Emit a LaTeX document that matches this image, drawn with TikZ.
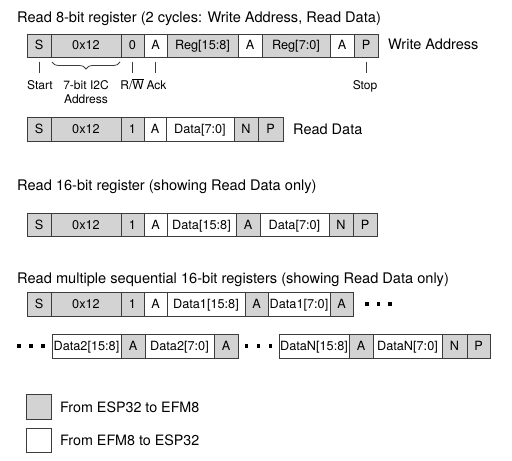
\documentclass[tikz,border=0pt]{standalone}
\usepackage{fontspec}
\setmainfont{TeX Gyre Heros}
\usetikzlibrary{decorations.pathreplacing,calc}
\definecolor{cellgray}{RGB}{211,211,211}
\definecolor{edgecol}{RGB}{60,60,60}
\begin{document}
\begin{tikzpicture}[x=1pt,y=-1pt,
  cell/.style={draw=edgecol, line width=0.9pt, anchor=west, minimum height=23.5pt,
    inner sep=0pt, outer sep=0pt, text height=8.5pt, text depth=0.5pt,
    font=\fontsize{12.7}{14}\selectfont},
  gcell/.style={cell, fill=cellgray},
  wcell/.style={cell, fill=white},
  wd/.style={minimum width=#1pt},
  title/.style={anchor=base west, inner sep=0pt, font=\fontsize{14.6}{16}\selectfont},
  side/.style={anchor=base west, inner sep=0pt, font=\fontsize{14.5}{16}\selectfont},
  note/.style={anchor=base, inner sep=0pt, font=\fontsize{12}{13.5}\selectfont},
  tick/.style={draw=edgecol, line width=0.8pt},
  dotmark/.style={fill=black, rectangle, minimum size=3.6pt, inner sep=0pt},
  legbox/.style={draw=edgecol, line width=0.9pt, minimum width=24.5pt, minimum height=24.5pt, inner sep=0pt, anchor=west},
  legtext/.style={anchor=west, inner sep=0pt, font=\fontsize{14.3}{16}\selectfont}]

\useasboundingbox (0,0) rectangle (512,461);

% Titles
\node[title] (t1) at (17,22) {Read 8-bit register (2 cycles: Write Address, Read Data)};
\node[title] (t2) at (17,190) {Read 16-bit register (showing Read Data only)};
\node[title] (t3) at (17,283) {Read multiple sequential 16-bit registers (showing Read Data only)};

% Row 1: Write Address
\node[gcell,wd=24] (a1) at (27,45.75) {S};
\node[gcell,wd=70] (a2) at (a1.east) {0x12};
\node[gcell,wd=23] (a3) at (a2.east) {0};
\node[wcell,wd=23] (a4) at (a3.east) {A};
\node[gcell,wd=71] (a5) at (a4.east) {Reg[15:8]};
\node[wcell,wd=24] (a6) at (a5.east) {A};
\node[gcell,wd=68] (a7) at (a6.east) {Reg[7:0]};
\node[wcell,wd=24] (a8) at (a7.east) {A};
\node[gcell,wd=24] (a9) at (a8.east) {P};
\node[side] (wa) at (388,49.5) {Write Address};

% Annotations
\node[note] (lstart) at (40,89) {Start};
\node[note] (laddr) at (86,89) {7-bit I2C};
\node[note] (laddr2) at (86,103) {Address};
\node[note] (lrw) at (132,89) {R/$\overline{\hbox{W}}$};
\node[note] (lack) at (156.5,89) {Ack};
\node[note] (lstop) at (365,89) {Stop};
\draw[tick] ($(a1.south)+(0,4)$) -- ($(a1.south)+(0,15)$);
\draw[tick] ($(a3.south)+(0,4)$) -- ($(a3.south)+(0,15)$);
\draw[tick] ($(a4.south)+(0,4)$) -- ($(a4.south)+(0,15)$);
\draw[tick] ($(a9.south)+(0,4)$) -- ($(a9.south)+(0,15)$);
\draw[tick, decorate, decoration={brace, mirror, amplitude=7pt}]
  ($(a2.south west)+(1,4.5)$) -- ($(a2.south east)+(-1,4.5)$);

% Row 2: Read Data
\node[gcell,wd=24] (b1) at (27,129.2) {S};
\node[gcell,wd=70] (b2) at (b1.east) {0x12};
\node[gcell,wd=23] (b3) at (b2.east) {1};
\node[wcell,wd=22] (b4) at (b3.east) {A};
\node[wcell,wd=68] (b5) at (b4.east) {Data[7:0]};
\node[gcell,wd=24] (b6) at (b5.east) {N};
\node[gcell,wd=25] (b7) at (b6.east) {P};
\node[side] (rd) at (293,134.5) {Read Data};

% Row 3: 16-bit register
\node[gcell,wd=24] (c1) at (27,225) {S};
\node[gcell,wd=70] (c2) at (c1.east) {0x12};
\node[gcell,wd=23] (c3) at (c2.east) {1};
\node[wcell,wd=23] (c4) at (c3.east) {A};
\node[wcell,wd=69] (c5) at (c4.east) {Data[15:8]};
\node[gcell,wd=24] (c6) at (c5.east) {A};
\node[wcell,wd=69] (c7) at (c6.east) {Data[7:0]};
\node[gcell,wd=24] (c8) at (c7.east) {N};
\node[gcell,wd=24] (c9) at (c8.east) {P};

% Row 4: multiple registers, first part
\node[gcell,wd=24] (d1) at (27,304.2) {S};
\node[gcell,wd=70] (d2) at (d1.east) {0x12};
\node[gcell,wd=23] (d3) at (d2.east) {1};
\node[wcell,wd=23] (d4) at (d3.east) {A};
\node[wcell,wd=78] (d5) at (d4.east) {Data1[15:8]};
\node[gcell,wd=23] (d6) at (d5.east) {A};
\node[wcell,wd=62] (d7) at (d6.east) {Data1[7:0]};
\node[gcell,wd=23] (d8) at (d7.east) {A};
\node[dotmark] (dd1) at (367,304) {};
\node[dotmark] (dd2) at (378.5,304) {};
\node[dotmark] (dd3) at (390,304) {};

% Row 5: continuation
\node[dotmark] (ed1) at (19,346) {};
\node[dotmark] (ed2) at (31,346) {};
\node[dotmark] (ed3) at (43,346) {};
\node[wcell,wd=69] (e1) at (52,346.2) {Data2[15:8]};
\node[gcell,wd=24] (e2) at (e1.east) {A};
\node[wcell,wd=69] (e3) at (e2.east) {Data2[7:0]};
\node[gcell,wd=24] (e4) at (e3.east) {A};
\node[dotmark] (ed4) at (246.5,346) {};
\node[dotmark] (ed5) at (258.5,346) {};
\node[dotmark] (ed6) at (270.5,346) {};
\node[wcell,wd=70] (e5) at (279,346.2) {DataN[15:8]};
\node[gcell,wd=24] (e6) at (e5.east) {A};
\node[wcell,wd=69] (e7) at (e6.east) {DataN[7:0]};
\node[gcell,wd=25] (e8) at (e7.east) {N};
\node[gcell,wd=23] (e9) at (e8.east) {P};

% Legend
\node[legbox, fill=cellgray] (lg1) at (26,407) {};
\node[legtext] (lg1t) at (60,407) {From ESP32 to EFM8};
\node[legbox, fill=white] (lg2) at (26,440.5) {};
\node[legtext] (lg2t) at (60,440.5) {From EFM8 to ESP32};
\end{tikzpicture}
\end{document}
